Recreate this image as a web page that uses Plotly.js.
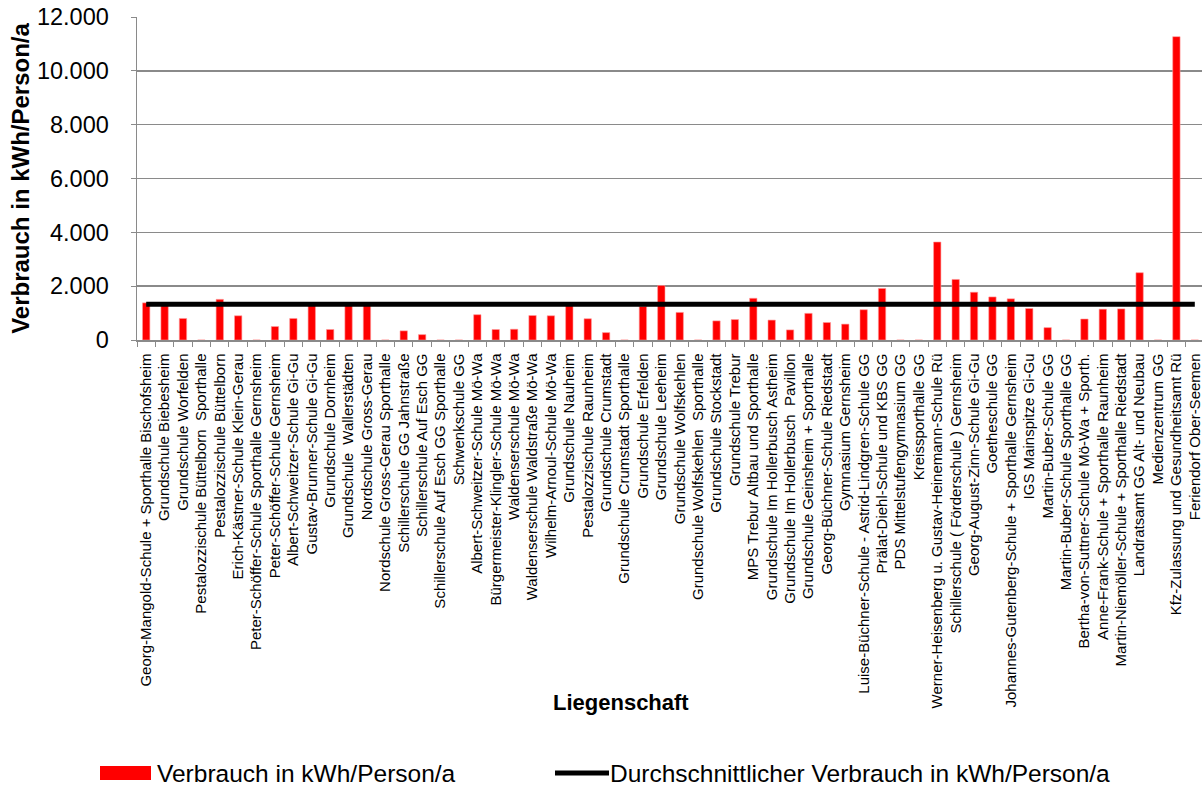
<!DOCTYPE html>
<html><head><meta charset="utf-8">
<script src="https://cdn.plot.ly/plotly-3.0.1.min.js"></script>
<style>html,body{margin:0;padding:0;overflow:hidden;background:#fff}#chart{width:1206px;height:787px}</style>
</head><body><div id="chart"></div>
<script>
const categories = [
"Georg-Mangold-Schule + Sporthalle Bischofsheim","Grundschule Biebesheim","Grundschule Worfelden",
"Pestalozzischule Büttelborn  Sporthalle","Pestalozzischule Büttelborn","Erich-Kästner-Schule Klein-Gerau",
"Peter-Schöffer-Schule Sporthalle Gernsheim","Peter-Schöffer-Schule Gernsheim","Albert-Schweitzer-Schule Gi-Gu",
"Gustav-Brunner-Schule Gi-Gu","Grundschule Dornheim","Grundschule  Wallerstädten","Nordschule Gross-Gerau",
"Nordschule Gross-Gerau Sporthalle","Schillerschule GG Jahnstraße","Schillerschule Auf Esch GG",
"Schillerschule Auf Esch GG Sporthalle","Schwenkschule GG","Albert-Schweitzer-Schule Mö-Wa",
"Bürgermeister-Klingler-Schule Mö-Wa","Waldenserschule Mö-Wa","Waldenserschule Waldstraße Mö-Wa",
"Wilhelm-Arnoul-Schule Mö-Wa","Grundschule Nauheim","Pestalozzischule Raunheim","Grundschule Crumstadt",
"Grundschule Crumstadt Sporthalle","Grundschule Erfelden","Grundschule Leeheim","Grundschule Wolfskehlen",
"Grundschule Wolfskehlen  Sporthalle","Grundschule Stockstadt","Grundschule Trebur","MPS Trebur Altbau und Sporthalle",
"Grundschule Im Hollerbusch Astheim","Grundschule Im Hollerbusch  Pavillon","Grundschule Geinsheim + Sporthalle",
"Georg-Büchner-Schule Riedstadt","Gymnasium Gernsheim","Luise-Büchner-Schule - Astrid-Lindgren-Schule GG",
"Prälat-Diehl-Schule und KBS GG","PDS Mittelstufengymnasium GG","Kreissporthalle GG",
"Werner-Heisenberg u. Gustav-Heinemann-Schule Rü","Schillerschule ( Förderschule ) Gernsheim",
"Georg-August-Zinn-Schule Gi-Gu","Goetheschule GG","Johannes-Gutenberg-Schule + Sporthalle Gernsheim",
"IGS Mainspitze Gi-Gu","Martin-Buber-Schule GG","Martin-Buber-Schule Sporthalle GG",
"Bertha-von-Suttner-Schule Mö-Wa + Sporth.","Anne-Frank-Schule + Sporthalle Raunheim",
"Martin-Niemöller-Schule + Sporthalle Riedstadt","Landratsamt GG Alt- und Neubau","Medienzentrum GG",
"Kfz-Zulassung und Gesundheitsamt Rü","Feriendorf Ober-Seemen"
];
const verbrauch = [
1380,1300,800,0,1510,900,0,500,800,1300,
390,1300,1300,0,340,200,0,0,940,390,
400,910,900,1280,790,275,0,1250,2025,1025,
0,710,760,1550,740,375,990,650,590,1125,
1915,0,0,3640,2250,1775,1600,1530,1170,460,
0,780,1145,1155,2500,0,11270,0
];
const durchschnitt = 1330;
const seriesNames = ["Verbrauch in kWh/Person/a","Durchschnittlicher Verbrauch in kWh/Person/a"];
const yTicks = [0,2000,4000,6000,8000,10000,12000];
const xTitle = "Liegenschaft";
const yTitle = "Verbrauch in kWh/Person/a";

// page geometry (pixels) -> paper coordinates
const W = 1206, H = 787, L = 137, R = 2, T = 17, B = 447;
const pw = W - L - R, ph = H - T - B;
const px = v => (v - L) / pw;
const py = v => (H - B - v) / ph;

const traces = [
  {type:'bar', name:seriesNames[0], x:categories, y:verbrauch, width:0.4,
   marker:{color:'#ff0000', line:{color:'#ff9a9a', width:0.6}}},
  {type:'scatter', mode:'lines', name:seriesNames[1],
   x:[categories[0], categories[categories.length-1]], y:[durchschnitt, durchschnitt],
   line:{color:'#000000', width:5}}
];
const legFont = {family:'Liberation Sans, Arial', size:24.5, color:'#000'};
const layout = {
  width:W, height:H,
  margin:{l:L, r:R, t:T, b:B},
  paper_bgcolor:'#ffffff', plot_bgcolor:'#ffffff',
  separators:',.',
  showlegend:false,
  xaxis:{type:'category', tickangle:-90, tickson:'boundaries', ticks:'outside', ticklen:5, tickcolor:'#8a8a8a',
         showline:true, linecolor:'#8a8a8a', linewidth:1.5, showgrid:false, ticklabelstandoff:6,
         tickfont:{family:'Liberation Sans, Arial', size:15, color:'#000'},
         automargin:false, fixedrange:true},
  yaxis:{range:[0,12000], tickvals:yTicks, tickformat:',d', ticks:'outside', ticklen:5, tickcolor:'#8a8a8a',
         showline:true, linecolor:'#8a8a8a', linewidth:1.5, gridcolor:'#8a8a8a', gridwidth:1.5,
         zeroline:false, ticklabelstandoff:17,
         tickfont:{family:'Liberation Sans, Arial', size:23.5, color:'#000'},
         title:{text:'<b>'+yTitle+'</b>', font:{family:'Liberation Sans, Arial', size:24, color:'#000'}, standoff:0},
         automargin:false, fixedrange:true},
  shapes:[
    {type:'rect', xref:'paper', yref:'paper', x0:px(100), x1:px(151), y0:py(780), y1:py(766),
     fillcolor:'#ff0000', line:{width:0}},
    {type:'line', xref:'paper', yref:'paper', x0:px(555), x1:px(609), y0:py(773), y1:py(773),
     line:{color:'#000', width:5}}
  ],
  annotations:[
    {xref:'paper', yref:'paper', x:px(621), y:py(702), text:'<b>'+xTitle+'</b>', showarrow:false,
     xanchor:'center', yanchor:'middle', font:{family:'Liberation Sans, Arial', size:22, color:'#000'}},
    {xref:'paper', yref:'paper', x:px(155), y:py(773), text:seriesNames[0], showarrow:false,
     xanchor:'left', yanchor:'middle', font:legFont},
    {xref:'paper', yref:'paper', x:px(608), y:py(773), text:seriesNames[1], showarrow:false,
     xanchor:'left', yanchor:'middle', font:legFont}
  ]
};
Plotly.newPlot('chart', traces, layout, {displayModeBar:false, staticPlot:true});
</script></body></html>
